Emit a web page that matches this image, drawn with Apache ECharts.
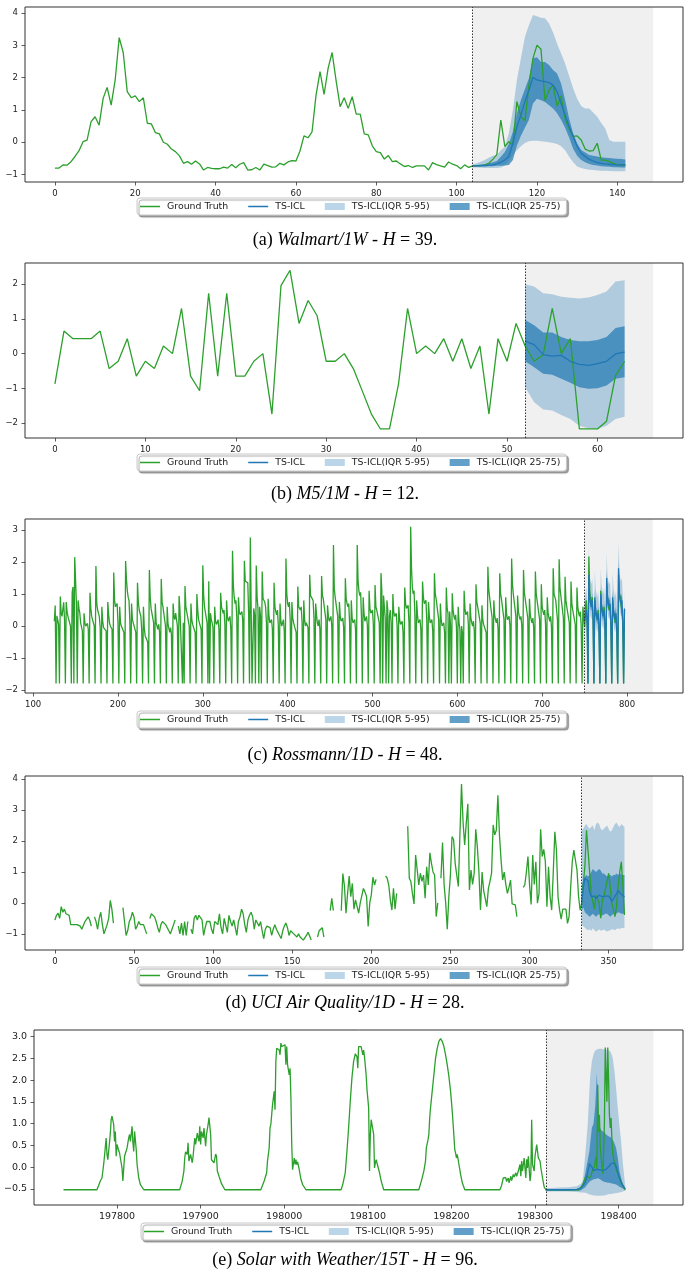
<!DOCTYPE html>
<html>
<head>
<meta charset="utf-8">
<script src="https://cdn.jsdelivr.net/npm/echarts@6/dist/echarts.min.js"></script>
<style>
html, body { margin: 0; padding: 0; background: #fff; }
#container { width: 690px; height: 1281px; }
</style>
</head>
<body>
<div id="container"></div>
<script>
// ---- (a) Walmart/1W ----
var walmartGt = [
  -0.80,-0.80,-0.70,-0.71,-0.60,-0.44,-0.26,0.02,0.07,0.64,
  0.79,0.53,1.36,1.70,1.15,1.93,3.24,2.78,1.57,1.38,
  1.44,1.26,1.38,0.59,0.57,0.30,0.26,0.00,-0.06,-0.21,
  -0.29,-0.42,-0.65,-0.60,-0.68,-0.58,-0.67,-0.86,-0.78,-0.81,
  -0.82,-0.82,-0.77,-0.80,-0.69,-0.79,-0.68,-0.63,-0.86,-0.85,
  -0.78,-0.86,-0.68,-0.72,-0.77,-0.76,-0.65,-0.70,-0.61,-0.57,
  -0.58,-0.27,0.20,0.14,0.32,1.46,2.19,1.48,2.29,2.78,
  1.90,1.10,1.38,1.05,1.41,0.87,0.87,0.26,0.23,-0.11,
  -0.29,-0.32,-0.52,-0.41,-0.60,-0.58,-0.67,-0.75,-0.72,-0.78,
  -0.73,-0.73,-0.73,-0.86,-0.63,-0.69,-0.73,-0.77,-0.61,-0.68,
  -0.72,-0.82,-0.70,-0.78,-0.73,
  -0.72,-0.72,-0.71,-0.65,-0.53,-0.38,0.69,-0.13,0.02,-0.08,
  1.26,0.79,0.67,1.77,2.60,3.01,2.88,1.29,1.62,1.77,
  1.12,1.43,0.74,0.43,0.18,0.20,0.07,-0.21,-0.27,-0.26,
  -0.03,-0.55,-0.55,-0.60,-0.65,-0.70,-0.71,-0.71
];
var walmartStart = 104;
var walmartMed = [-0.73,-0.73,-0.72,-0.72,-0.71,-0.70,-0.67,-0.62,-0.55,-0.44,-0.03,0.48,0.85,1.26,1.62,2.01,1.93,1.90,1.88,1.85,1.77,1.57,1.21,0.85,0.48,0.18,-0.13,-0.34,-0.44,-0.53,-0.58,-0.63,-0.65,-0.67,-0.68,-0.69,-0.70,-0.70,-0.70];
var walmartQ25 = [-0.75,-0.75,-0.75,-0.75,-0.74,-0.74,-0.73,-0.73,-0.72,-0.70,-0.55,-0.10,0.20,0.45,0.70,1.20,1.35,1.30,1.25,1.15,1.05,0.90,0.70,0.45,0.15,-0.20,-0.42,-0.55,-0.62,-0.67,-0.70,-0.72,-0.74,-0.75,-0.76,-0.77,-0.77,-0.78,-0.78];
var walmartQ75 = [-0.70,-0.70,-0.69,-0.67,-0.65,-0.62,-0.58,-0.45,-0.30,-0.05,0.33,0.90,1.31,1.65,1.98,2.60,2.63,2.49,2.49,2.39,2.24,2.13,1.82,1.31,0.74,0.28,-0.03,-0.24,-0.32,-0.39,-0.42,-0.44,-0.46,-0.48,-0.49,-0.50,-0.51,-0.52,-0.53];
var walmartQ5 = [-0.78,-0.78,-0.79,-0.80,-0.80,-0.80,-0.80,-0.78,-0.72,-0.58,-0.40,-0.25,-0.12,-0.02,0.03,0.05,0.05,0.03,0.02,0.00,-0.02,-0.05,-0.12,-0.25,-0.45,-0.62,-0.75,-0.80,-0.83,-0.85,-0.86,-0.87,-0.88,-0.88,-0.89,-0.90,-0.90,-0.90,-0.90];
var walmartQ95 = [-0.68,-0.65,-0.60,-0.55,-0.48,-0.42,-0.39,-0.25,-0.13,0.28,1.00,1.93,2.60,3.27,3.63,3.94,3.90,3.86,3.84,3.68,3.40,3.06,2.75,2.44,2.05,1.67,1.35,1.12,1.05,1.05,0.92,0.79,0.60,0.43,0.07,0.02,0.02,0.02,0.02];
var walmartXTicks = [0, 20, 40, 60, 80, 100, 120, 140];
var walmartYTicks = [-1, 0, 1, 2, 3, 4];

// ---- (b) M5/1M ----
var m5Gt = [
  -0.87,0.65,0.43,0.43,0.43,0.65,-0.43,-0.22,0.43,-0.65,
  -0.22,-0.43,0.22,0.00,1.30,-0.65,-1.07,1.74,-0.65,1.74,
  -0.65,-0.65,-0.22,0.00,-1.74,1.96,2.40,0.87,1.53,1.09,
  -0.22,-0.22,0.00,-0.43,-1.08,-1.74,-2.17,-2.17,-0.87,1.30,
  0.00,0.22,0.00,0.43,-0.22,0.43,-0.43,0.22,-1.74,0.43,
  -0.22,0.87,0.22,-0.22,-0.03,1.30,0.00,0.43,-2.17,-2.17,
  -2.17,-1.95,-0.63,-0.22
];
var m5Start = 52;
var m5Med = [0.36,0.26,-0.03,-0.07,-0.05,-0.22,-0.31,-0.34,-0.29,-0.22,-0.01,0.04];
var m5Q25 = [-0.22,-0.39,-0.58,-0.61,-0.72,-0.84,-0.97,-1.01,-1.00,-0.92,-0.72,-0.68];
var m5Q75 = [0.97,0.82,0.61,0.61,0.48,0.39,0.36,0.36,0.39,0.48,0.74,0.79];
var m5Q5 = [-0.97,-1.40,-1.61,-1.64,-1.77,-1.88,-2.08,-2.15,-2.17,-2.08,-1.88,-1.82];
var m5Q95 = [2.00,1.93,1.74,1.71,1.64,1.61,1.59,1.62,1.69,1.79,2.08,2.11];
var m5XTicks = [0, 10, 20, 30, 40, 50, 60];
var m5YTicks = [-2, -1, 0, 1, 2];

// ---- (c) Rossmann/1D ---- (rows: Mon..Sun)
var rossFirstDay = 125;
var rossHist = [
  0.15,0.64,-1.79,0.32,0.28,0.05,-1.79,
  0.92,0.40,0.30,0.35,0.74,0.20,-1.79,
  0.75,0.45,0.30,0.20,0.15,0.00,-1.79,
  1.05,1.22,-1.79,2.15,1.44,0.70,-1.79,
  0.80,0.55,0.40,0.10,0.05,-0.15,-1.79,
  0.40,0.10,0.00,0.05,0.08,-0.10,-1.79,
  1.04,0.55,0.30,0.35,0.28,0.00,-1.79,
  1.87,0.70,0.50,0.55,0.30,-0.05,-1.79,
  0.60,0.15,-0.05,-0.10,0.00,-0.15,-1.79,
  0.75,0.35,0.10,0.00,0.05,-0.10,-1.79,
  1.67,0.80,0.60,0.55,0.70,0.10,-1.79,
  0.60,0.10,0.00,-0.05,0.00,-0.20,-1.79,
  2.03,1.45,1.10,0.90,0.80,0.15,-1.79,
  0.70,0.20,0.10,0.15,0.05,-0.20,-1.79,
  1.35,0.75,0.50,0.40,0.30,-0.15,-1.79,
  0.60,-0.05,-0.30,-0.35,-0.30,-0.50,-1.79,
  1.75,0.90,0.55,0.50,0.50,0.10,-1.79,
  0.70,0.10,0.00,-0.10,0.05,-0.20,-1.79,
  1.47,0.75,0.60,0.55,0.55,0.00,-1.79,
  0.60,0.05,0.00,-0.20,-0.05,-0.25,-1.79,
  0.70,0.30,0.20,0.40,0.45,0.00,-1.79,
  0.94,0.55,0.60,0.50,-1.79,0.10,-1.79,
  1.25,0.60,0.45,0.50,0.50,0.00,-1.79,
  0.70,0.20,0.05,0.00,0.10,-0.20,-1.79,
  1.00,0.50,0.20,0.10,0.10,-0.10,-1.79,
  1.90,0.95,0.60,0.55,0.55,0.10,-1.79,
  1.40,-1.79,0.40,0.20,0.10,-0.05,-1.79,
  0.60,0.15,0.05,0.10,0.20,-0.10,-1.79,
  1.04,0.60,0.50,0.40,0.50,0.05,-1.79,
  0.80,0.30,0.15,0.10,0.30,-0.10,-1.79,
  2.35,1.25,0.90,0.70,0.80,0.30,-1.79,
  0.90,0.45,0.35,0.40,0.45,0.20,-1.79,
  2.04,1.40,1.35,1.40,1.35,0.40,-1.79,
  2.76,0.50,-1.79,-1.79,0.55,0.35,-1.79,
  1.89,0.90,0.55,-1.79,0.60,0.30,-1.79,
  1.70,0.85,0.80,0.75,0.60,0.10,-1.79,
  0.85,0.30,0.10,0.05,0.20,-0.10,-1.79,
  1.35,0.60,0.45,0.35,0.50,0.00,-1.79,
  0.70,0.15,0.00,0.10,0.20,-0.15,-1.79,
  2.11,1.00,0.70,0.60,0.75,0.20,-1.79,
  0.75,0.25,0.10,0.05,0.10,-0.20,-1.79,
  1.23,0.60,0.55,0.50,0.60,0.10,-1.79,
  0.80,0.20,0.00,0.10,0.15,-0.05,-1.79,
  1.60,0.95,0.90,0.90,0.80,0.25,-1.79,
  0.70,0.35,0.10,0.00,0.20,-0.10,-1.79,
  1.56,0.95,0.85,0.80,0.90,0.20,-1.79,
  0.65,0.30,0.15,0.10,0.30,0.00,-1.79,
  2.53,1.15,0.90,0.85,0.95,0.30,-1.79,
  0.75,0.30,0.15,0.10,0.25,-0.05,-1.79,
  1.49,0.85,0.70,0.60,0.70,0.10,-1.79,
  0.80,0.25,0.10,0.05,0.20,-0.10,-1.79,
  2.53,1.40,1.10,0.95,1.05,0.30,-1.79,
  0.90,0.40,0.15,0.10,0.30,0.00,-1.79,
  1.10,0.55,0.40,0.35,0.50,0.05,-1.79,
  1.28,0.60,0.50,0.45,0.55,0.10,-1.79,
  1.65,1.10,-1.79,0.95,0.90,0.25,-1.79,
  0.80,0.50,-1.79,0.30,0.50,0.10,-1.79,
  1.00,0.45,0.30,0.25,0.40,0.00,-1.79,
  0.60,0.20,0.05,0.00,0.15,-0.20,-1.79,
  1.20,0.70,0.55,0.60,0.65,0.10,-1.79,
  3.10,1.80,1.20,1.00,1.10,0.30,-1.79,
  0.80,0.35,0.10,0.05,0.20,-0.10,-1.79,
  1.39,0.90,0.70,0.75,0.80,0.15,-1.79,
  0.75,0.30,0.10,0.05,0.20,-0.15,-1.79,
  1.65,1.00,0.85,0.80,0.90,0.20,-1.79,
  0.70,0.20,0.00,-0.05,0.10,-0.20,-1.79,
  1.20,0.55,0.40,-1.79,0.45,0.00,-1.79,
  1.02,0.50,0.30,0.20,0.35,-0.05,-1.79,
  0.60,0.10,-0.10,-1.79,0.00,-0.20,-1.79,
  1.10,0.55,0.35,0.30,0.45,0.05,-1.79,
  0.70,0.25,0.10,0.00,0.15,-0.15,-1.79,
  1.30,0.75,0.60,0.55,0.60,0.10,-1.79,
  0.65,0.20,0.05,0.00,0.10,-0.20,-1.79,
  1.85,1.15,0.90,0.85,0.95,0.25,-1.79,
  0.80,0.35,0.20,0.10,0.25,-0.10,-1.79,
  1.65,1.00,0.85,0.80,0.85,0.20,-1.79,
  0.90,0.40,0.20,0.15,0.30,0.00,-1.79,
  2.11,1.30,1.00,0.95,1.00,0.30,-1.79,
  0.95,0.45,0.30,0.20,0.30,0.00,-1.79,
  1.75,1.05,0.85,0.80,0.90,0.25,-1.79,
  0.85,0.35,0.20,0.10,0.25,-0.05,-1.79,
  1.70,1.00,0.80,0.75,0.85,0.20,-1.79,
  1.30,0.60,0.45,0.35,0.50,0.05,-1.79,
  0.90,0.40,0.25,0.15,0.30,-0.05,-1.79,
  1.80,1.00,0.90,0.80,0.85,0.20,-1.79,
  2.08,1.20,0.95,0.90,1.00,0.25,-1.79,
  1.54,0.80,0.60,0.55,0.60,0.10,-1.79,
  1.39,0.70,0.50,0.45,0.55,0.05,-1.79,
  1.20,0.60,0.40,0.30,0.45,0.00,-1.79,
  0.60,0.30
];
var rossStart = 750;
var rossFut = [
  -0.02,0.60,0.80,0.30,-1.79,
  2.17,1.10,0.80,0.70,0.90,0.30,-1.79,
  0.80,0.40,0.30,0.20,0.50,0.00,-1.79,
  1.10,0.60,0.50,0.40,0.60,0.10,-1.79,
  1.30,0.80,0.60,0.50,0.60,0.00,-1.79,
  0.80,0.40,0.30,0.10,0.30,-0.20,-1.79,
  1.60,1.00,0.90,0.70,0.70,0.10,-1.79,
  0.50
];
var rossMed = [
  0.20,0.30,0.50,0.10,-1.79,
  1.60,0.90,0.70,0.60,0.80,0.20,-1.79,
  0.90,0.50,0.30,0.20,0.40,-0.10,-1.79,
  1.00,0.60,0.40,0.30,0.50,0.00,-1.79,
  1.50,0.90,0.70,0.60,0.70,0.10,-1.79,
  0.90,0.50,0.30,0.20,0.40,-0.10,-1.79,
  1.80,1.00,0.80,0.70,0.80,0.20,-1.79,
  0.55
];
var rossQ25 = [
  0.05,0.15,0.35,-0.05,-1.79,
  1.40,0.75,0.55,0.45,0.65,0.05,-1.79,
  0.75,0.35,0.15,0.05,0.25,-0.25,-1.79,
  0.85,0.45,0.25,0.15,0.35,-0.15,-1.79,
  1.30,0.75,0.55,0.45,0.55,-0.05,-1.79,
  0.75,0.35,0.15,0.05,0.25,-0.25,-1.79,
  1.55,0.85,0.65,0.55,0.65,0.05,-1.79,
  0.40
];
var rossQ75 = [
  0.35,0.50,0.70,0.30,-1.75,
  1.85,1.10,0.90,0.80,1.00,0.40,-1.75,
  1.10,0.70,0.50,0.40,0.60,0.10,-1.75,
  1.20,0.80,0.60,0.50,0.70,0.20,-1.75,
  1.75,1.10,0.90,0.80,0.90,0.30,-1.75,
  1.10,0.70,0.50,0.40,0.60,0.10,-1.75,
  2.10,1.20,1.00,0.90,1.00,0.40,-1.75,
  0.75
];
var rossQ5 = [
  -0.30,-0.10,0.10,-0.30,-1.80,
  1.00,0.50,0.30,0.20,0.40,-0.20,-1.80,
  0.50,0.10,-0.10,-0.20,0.00,-0.50,-1.80,
  0.60,0.20,0.00,-0.10,0.10,-0.40,-1.80,
  1.00,0.50,0.30,0.20,0.30,-0.30,-1.80,
  0.50,0.10,-0.10,-0.20,0.00,-0.50,-1.80,
  1.20,0.60,0.40,0.30,0.40,-0.20,-1.80,
  0.10
];
var rossQ95 = [
  0.80,1.00,1.20,0.80,-1.50,
  2.50,1.60,1.40,1.30,1.50,0.90,-1.50,
  1.70,1.20,1.00,0.90,1.10,0.60,-1.50,
  1.80,1.30,1.10,1.00,1.20,0.70,-1.50,
  2.30,1.60,1.40,1.30,1.40,0.80,-1.50,
  1.70,1.20,1.00,0.90,1.10,0.60,-1.50,
  2.64,1.80,1.50,1.40,1.50,0.90,-1.50,
  1.20
];
var rossXTicks = [100, 200, 300, 400, 500, 600, 700, 800];
var rossYTicks = [-2, -1, 0, 1, 2, 3];

// ---- (d) UCI Air Quality/1D ----
var uciGt = [
  -0.55,-0.40,-0.33,-0.50,-0.12,-0.30,-0.20,-0.35,-0.30,-0.40,
  -0.70,-0.68,-0.70,-0.65,-0.70,-0.72,-0.75,-0.85,-0.90,-0.60,
  -0.65,-0.45,-0.55,-0.75,null,-0.45,-0.60,-0.85,-0.50,-0.30,
  -0.70,-1.00,-1.05,-0.70,-0.50,0.08,-0.20,-0.65,null,null,
  null,null,null,-0.15,-0.60,-1.05,-0.90,-0.60,-0.50,-0.30,
  -0.45,-0.85,-0.75,-0.60,-0.70,-0.65,-0.70,-0.75,-1.00,null,
  -0.50,-0.35,-0.40,-0.45,-0.60,-0.80,-0.95,-0.70,-0.60,-0.55,
  -0.70,-0.75,-0.90,-1.00,-0.85,-0.70,-0.55,null,-0.75,-1.00,
  -0.65,-1.05,-0.60,-1.05,-0.60,null,-0.85,-1.00,-0.50,-0.40,
  -0.55,-0.40,-0.45,-0.55,-1.05,-0.80,-0.60,-0.65,-0.60,-0.85,
  -1.00,-0.60,-0.55,-0.70,-0.35,-0.80,-1.00,-0.50,-0.55,-0.95,
  -0.40,-0.60,-0.75,-0.55,-0.80,-1.05,-0.60,-0.45,-0.20,-0.35,
  -0.70,-0.95,-0.55,-0.40,-0.30,-0.45,-0.85,-0.55,-0.50,-0.75,
  -0.60,-0.90,-1.15,-0.85,-0.75,-0.70,-0.80,-1.05,-0.85,-0.70,
  -0.85,-0.95,-1.05,-1.15,-0.90,-0.75,-0.65,-0.80,-1.05,-0.90,
  -0.95,-1.00,-1.05,-1.10,-1.00,-1.10,-1.15,-1.20,-1.20,-1.05,
  -0.95,-1.00,-1.20,null,null,null,-1.10,-0.90,-0.95,-0.80,
  -1.10,null,null,null,-0.25,0.15,-0.25,null,null,null,
  null,-0.25,0.95,0.55,-0.33,0.30,0.87,0.20,0.63,-0.20,
  0.10,0.08,-0.33,0.00,-0.05,0.47,0.35,0.20,-0.76,0.00,
  0.26,0.83,0.58,0.76,null,null,null,null,null,0.87,
  0.80,0.58,0.10,-0.23,0.47,-0.20,0.31,null,null,null,
  null,null,null,2.48,0.80,0.69,0.30,-0.03,1.55,1.50,
  0.58,0.96,0.70,0.90,0.15,1.17,0.58,1.62,1.28,1.00,
  0.90,-0.44,0.00,null,0.80,1.95,0.60,0.00,-0.85,0.20,
  0.90,2.14,2.05,1.28,0.90,0.53,2.20,3.84,2.60,1.87,
  2.57,3.20,0.42,1.06,0.60,0.95,2.38,1.82,1.00,-0.23,
  1.00,0.40,0.15,-0.12,0.47,0.70,0.96,2.52,2.20,2.35,
  3.48,2.19,1.39,0.74,1.00,0.60,0.31,0.50,0.74,-0.03,
  -0.05,-0.06,-0.44,null,null,null,0.50,0.58,0.99,1.50,
  0.60,-0.05,1.55,0.60,1.33,-0.01,0.30,2.38,1.50,1.73,
  1.33,-0.12,1.17,0.20,-0.23,1.00,2.30,1.71,0.20,-0.23,
  -0.52,-0.20,-0.25,-0.20,-0.66,-0.44,0.50,1.33,1.71,1.71,
  1.06,0.20,-0.23,-0.01,0.60,1.20,2.35,2.30,1.00,0.30,
  0.04,-0.20,0.25,0.30,0.00,-0.49,0.10,0.20,0.45,0.70,
  0.96,0.50,0.00,-0.23,-0.44,-0.10,0.53,0.99,1.33,0.53,
  -0.39
];
var uciStart = 333;
var uciMed = [0.00,0.50,0.80,0.75,0.72,0.35,0.20,0.25,0.22,0.15,0.18,0.25,0.22,0.20,0.15,0.22,0.25,0.22,0.15,0.05,0.12,0.22,0.30,0.40,0.35,0.28,0.22,0.20];
var uciQ25 = [-0.25,-0.15,-0.30,-0.35,-0.40,-0.45,-0.40,-0.35,-0.40,-0.45,-0.40,-0.35,-0.45,-0.40,-0.38,-0.35,-0.35,-0.40,-0.45,-0.40,-0.35,-0.30,-0.35,-0.30,-0.32,-0.35,-0.35,-0.33];
var uciQ75 = [0.55,0.75,0.85,0.90,0.85,0.90,1.00,1.10,1.05,1.00,1.05,1.10,1.05,0.95,0.95,0.90,0.85,0.90,0.90,0.85,0.90,0.90,0.95,0.90,0.95,0.92,0.90,0.90];
var uciQ5 = [-0.72,-0.75,-0.80,-0.85,-0.88,-0.85,-0.90,-0.82,-0.88,-0.92,-0.90,-0.85,-0.90,-0.88,-0.86,-0.90,-0.92,-0.90,-0.88,-0.85,-0.86,-0.88,-0.84,-0.82,-0.85,-0.80,-0.82,-0.80];
var uciQ95 = [2.35,2.40,2.50,2.55,2.45,2.40,2.45,2.50,2.35,2.55,2.60,2.55,2.40,2.35,2.40,2.45,2.50,2.40,2.30,2.35,2.45,2.55,2.60,2.50,2.45,2.55,2.50,2.45];
var uciXTicks = [0, 50, 100, 150, 200, 250, 300, 350];
var uciYTicks = [-1, 0, 1, 2, 3, 4];

// ---- (e) Solar with Weather/15T ----
var solarX = [
  197736,197776,197778,197780,197782,197784,197785,197787,197788,197789,197791,197792,197793,197794,197796,197797,197798,197799,197800,197802,197803,197804,197806,197807,197809,197810,197812,197814,197815,197816,197818,197819,197820,197821,197823,197824,197826,197828,197832,
  197875,197878,197880,197881,197882,197884,197885,197886,197888,197890,197891,197893,197894,197896,197898,197899,197900,197901,197903,197904,197906,197907,197909,197910,197912,197913,197915,197916,197918,197919,197920,197922,197925,197929,
  197972,197976,197979,197980,197982,197983,197984,197985,197986,197988,197989,197990,197991,197992,197994,197995,197996,197997,197998,197999,198001,198002,198003,198004,198006,198007,198008,198009,198010,198012,198013,198014,198015,198016,198018,198020,198022,198026,
  198068,198070,198073,198075,198077,198079,198081,198083,198085,198087,198088,198089,198091,198092,198094,198095,198096,198097,198098,198099,198100,198101,198102,198103,198104,198106,198107,198108,198109,198110,198112,198114,198116,198119,
  198161,198164,198167,198169,198170,198172,198173,198174,198175,198177,198179,198181,198183,198185,198187,198189,198191,198193,198195,198197,198199,198201,198203,198204,198205,198206,198207,198209,198211,198213,198216,
  198258,198260,198262,198263,198265,198266,198268,198269,198271,198272,198274,198275,198277,198278,198280,198282,198283,198284,198285,198287,198289,198290,198291,198292,198294,198295,198296,198297,198299,198300,198302,198303,198304,198306,198307,198309,198311,198313,
  198353,198355,198357,198359,198361,198363,198365,198367,198369,198371,198373,198374,198375,198376,198377,198378,198380,198381,198382,198383,198384,198385,198386,198387,198388,198389,198390,198391,198392,198393,198395,198397,198399,198401,198403,198405,198407,198408
];
var solarY = [
  -0.52,-0.52,-0.42,-0.32,-0.25,0.06,0.25,0.67,0.29,0.17,0.56,0.78,1.09,1.17,0.98,0.59,0.82,0.25,0.52,0.38,0.33,0.21,-0.02,-0.32,0.25,0.21,0.44,0.67,0.75,0.59,0.94,0.56,0.36,0.82,0.40,0.06,-0.25,-0.40,-0.52,
  -0.52,-0.32,-0.09,0.21,0.35,0.29,0.56,0.14,0.29,0.10,0.25,0.67,0.52,0.78,0.59,0.94,0.52,0.82,0.67,0.90,0.48,0.75,0.98,1.14,0.75,0.17,0.21,0.10,0.30,0.25,-0.09,-0.21,-0.38,-0.52,
  -0.52,-0.32,-0.13,0.14,0.44,0.90,0.98,1.20,1.43,1.74,1.32,2.43,2.73,2.73,2.69,2.58,2.85,2.77,2.81,2.73,2.81,2.35,2.77,2.35,2.12,2.27,1.59,0.52,-0.06,0.21,0.06,0.17,0.06,0.12,-0.06,-0.28,-0.40,-0.52,
  -0.52,-0.40,-0.13,0.36,0.90,1.51,2.05,2.43,2.60,2.54,2.27,2.77,2.75,2.77,2.58,2.69,2.54,2.50,2.12,1.78,1.82,1.36,-0.09,0.75,1.09,1.05,0.75,-0.02,0.10,0.17,0.02,-0.13,-0.32,-0.52,
  -0.52,-0.32,-0.09,0.14,0.44,0.63,0.75,1.13,1.36,1.74,2.12,2.50,2.73,2.89,2.95,2.89,2.77,2.58,2.35,2.08,1.74,1.28,0.71,0.40,0.32,0.21,0.29,0.06,-0.17,-0.36,-0.52,
  -0.52,-0.42,-0.25,-0.29,-0.24,-0.33,-0.25,-0.36,-0.21,-0.31,-0.17,-0.23,-0.13,-0.21,-0.09,0.06,-0.21,0.14,-0.09,0.21,-0.25,0.18,-0.02,0.25,-0.32,-0.17,1.09,0.06,-0.09,0.25,0.52,0.36,0.21,0.14,-0.02,-0.25,-0.46,-0.52,
  -0.52,-0.46,-0.40,-0.30,-0.20,-0.21,-0.25,-0.20,-0.05,0.00,0.25,-0.05,1.89,0.80,1.20,0.50,0.00,-0.15,0.30,1.00,2.75,2.77,1.50,2.75,2.73,1.20,0.90,1.13,0.60,0.30,0.10,-0.05,-0.15,-0.25,-0.35,-0.42,-0.50,-0.52
];
var solarStart = 198313;
var solarFx = [198313,198320,198330,198340,198350,198355,198357,198359,198361,198363,198365,198366,198368,198370,198372,198374,198375,198376,198377,198378,198379,198381,198383,198385,198387,198389,198391,198393,198395,198397,198399,198401,198403,198405,198408];
var solarMed = [-0.52,-0.52,-0.52,-0.52,-0.51,-0.48,-0.44,-0.38,-0.30,-0.12,0.08,0.10,0.00,-0.08,-0.08,-0.05,-0.05,-0.05,-0.06,-0.07,-0.08,-0.08,-0.06,-0.05,-0.02,0.03,0.08,0.11,0.10,0.02,-0.12,-0.25,-0.34,-0.42,-0.50];
var solarQ25 = [-0.54,-0.54,-0.54,-0.54,-0.54,-0.53,-0.50,-0.48,-0.44,-0.38,-0.34,-0.32,-0.30,-0.28,-0.27,-0.26,-0.26,-0.26,-0.27,-0.28,-0.30,-0.32,-0.34,-0.35,-0.36,-0.36,-0.37,-0.38,-0.39,-0.40,-0.42,-0.45,-0.47,-0.49,-0.52];
var solarQ75 = [-0.50,-0.50,-0.50,-0.50,-0.50,-0.45,-0.38,-0.25,-0.05,0.15,0.36,0.55,0.90,1.00,1.40,2.17,1.60,1.00,0.95,0.90,0.85,0.82,0.80,0.75,0.72,0.70,0.68,0.63,0.55,0.44,0.21,-0.09,-0.25,-0.38,-0.50];
var solarQ5 = [-0.56,-0.56,-0.56,-0.56,-0.57,-0.58,-0.58,-0.59,-0.59,-0.61,-0.63,-0.63,-0.64,-0.65,-0.65,-0.66,-0.66,-0.66,-0.66,-0.66,-0.66,-0.65,-0.65,-0.64,-0.63,-0.62,-0.62,-0.61,-0.60,-0.60,-0.59,-0.58,-0.57,-0.56,-0.54];
var solarQ95 = [-0.48,-0.48,-0.47,-0.46,-0.44,-0.38,-0.32,0.06,0.50,0.98,1.74,2.10,2.43,2.60,2.68,2.70,2.71,2.72,2.72,2.72,2.72,2.71,2.70,2.70,2.69,2.68,2.62,2.50,2.20,1.80,1.36,0.95,0.59,0.10,-0.45];
var solarXTicks = [197800, 197900, 198000, 198100, 198200, 198300, 198400];
var solarYTicks = [-0.5, 0, 0.5, 1, 1.5, 2, 2.5, 3];

var captions = [
    '{n|(a) }{i|Walmart/1W}{n| - }{i|H}{n| = 39.}',
    '{n|(b) }{i|M5/1M}{n| - }{i|H}{n| = 12.}',
    '{n|(c) }{i|Rossmann/1D}{n| - }{i|H}{n| = 48.}',
    '{n|(d) }{i|UCI Air Quality/1D}{n| - }{i|H}{n| = 28.}',
    '{n|(e) }{i|Solar with Weather/15T}{n| - }{i|H}{n| = 96.}'
];

var GREEN = '#2ca02c';
var BLUE = '#1f77b4';
var LIGHT = 'rgba(31,119,180,0.3)';
var DARK = 'rgba(31,119,180,0.7)';
var LINE_ICON = 'path://M0,0H20V1.5H0Z';

function seq(x0, ys) {
    return ys.map(function(v, i) { return [x0 + i, v]; });
}
function steps(x0, n) {
    var out = [];
    for (var i = 0; i < n; i++) out.push(x0 + i);
    return out;
}
function zip(xs, ys) {
    return xs.map(function(x, i) { return [x, ys[i]]; });
}
function minus(v) {
    return v < 0 ? '\u2212' + Math.abs(v) : String(v);
}

var panels = [{
    grid: { left: 25, top: 7, width: 658, height: 175 },
    xr: [-7.45, 156.35], yr: [-1.23, 4.19],
    xt: walmartXTicks, yt: walmartYTicks,
    shade: [walmartStart, 148.9],
    gt: seq(0, walmartGt),
    fx: steps(walmartStart, walmartMed.length),
    med: walmartMed, q5: walmartQ5, q25: walmartQ25, q75: walmartQ75, q95: walmartQ95,
    legend: [137, 198], capTop: 230, fs: 8.5
}, {
    grid: { left: 25, top: 263, width: 658, height: 175 },
    xr: [-3.31, 69.46], yr: [-2.43, 2.61],
    xt: m5XTicks, yt: m5YTicks,
    shade: [m5Start, 66.15],
    gt: seq(0, m5Gt),
    fx: steps(m5Start, m5Med.length),
    med: m5Med, q5: m5Q5, q25: m5Q25, q75: m5Q75, q95: m5Q95,
    legend: [137, 454], capTop: 484, fs: 8.5
}, {
    grid: { left: 25, top: 519, width: 658, height: 174 },
    xr: [90.4, 866], yr: [-2.09, 3.34],
    xt: rossXTicks, yt: rossYTicks,
    shade: [rossStart, 830.3],
    gt: seq(rossFirstDay, rossHist.concat(rossFut)),
    fx: steps(rossStart, rossMed.length),
    med: rossMed, q5: rossQ5, q25: rossQ25, q75: rossQ75, q95: rossQ95,
    legend: [137, 711], capTop: 745, fs: 8.5
}, {
    grid: { left: 25, top: 776, width: 658, height: 174 },
    xr: [-18.9, 397], yr: [-1.52, 4.1],
    xt: uciXTicks, yt: uciYTicks,
    shade: [uciStart, 378],
    gt: seq(0, uciGt),
    fx: steps(uciStart, uciMed.length),
    med: uciMed, q5: uciQ5, q25: uciQ25, q75: uciQ75, q95: uciQ95,
    legend: [137, 967], capTop: 993, fs: 8.5
}, {
    grid: { left: 34, top: 1030, width: 649, height: 175 },
    xr: [197700.7, 198477], yr: [-0.87, 3.15],
    xt: solarXTicks, yt: solarYTicks,
    shade: [solarStart, 198441.6],
    gt: zip(solarX, solarY),
    fx: solarFx,
    med: solarMed, q5: solarQ5, q25: solarQ25, q75: solarQ75, q95: solarQ95,
    legend: [141, 1223], capTop: 1250, fs: 9.5, yfix: 1
}];

function bandSeries(name, idx, xs, lo, hi, color) {
    return {
        type: 'custom',
        name: name,
        xAxisIndex: idx,
        yAxisIndex: idx,
        z: 2,
        silent: true,
        itemStyle: { color: color },
        encode: { x: 0, y: [1, 2] },
        data: xs.map(function(x, i) { return [x, lo[i], hi[i]]; }),
        renderItem: function(params, api) {
            if (params.dataIndexInside !== 0) return;
            var n = params.dataInsideLength;
            var top = [], bot = [];
            for (var i = 0; i < n; i++) {
                top.push(api.coord([api.value(0, i), api.value(2, i)]));
                bot.unshift(api.coord([api.value(0, i), api.value(1, i)]));
            }
            return {
                type: 'polygon',
                shape: { points: top.concat(bot) },
                style: { fill: color }
            };
        }
    };
}

var legendData = [
    { name: 'Ground Truth', icon: LINE_ICON, itemStyle: { color: GREEN, borderWidth: 0 } },
    { name: 'TS-ICL', icon: LINE_ICON, itemStyle: { color: BLUE, borderWidth: 0 } },
    { name: 'TS-ICL(IQR 5-95)', icon: 'rect', itemStyle: { color: LIGHT, borderWidth: 0 } },
    { name: 'TS-ICL(IQR 25-75)', icon: 'rect', itemStyle: { color: DARK, borderWidth: 0 } }
];

var grids = [], xAxes = [], yAxes = [], series = [], legends = [], titles = [];
var rich = {
    n: { fontFamily: 'Liberation Serif', fontSize: 18, fontWeight: 'normal', color: '#000', lineHeight: 20 },
    i: { fontFamily: 'Liberation Serif', fontSize: 18, fontWeight: 'normal', fontStyle: 'italic', color: '#000', lineHeight: 20 }
};

panels.forEach(function(p, k) {
    grids.push({
        left: p.grid.left, top: p.grid.top, width: p.grid.width, height: p.grid.height,
        show: true, z: 10, borderColor: '#333', borderWidth: 1, backgroundColor: 'transparent'
    });
    var labelStyle = { fontFamily: 'DejaVu Sans', fontSize: p.fs, color: '#222', margin: 7 };
    xAxes.push({
        type: 'value', gridIndex: k, min: p.xr[0], max: p.xr[1],
        axisLine: { show: false, onZero: false },
        axisTick: { show: true, length: 3.5, customValues: p.xt, lineStyle: { color: '#333', width: 0.8 } },
        axisLabel: Object.assign({ customValues: p.xt, formatter: function(v) { return minus(v); } }, labelStyle),
        splitLine: { show: false }
    });
    yAxes.push({
        type: 'value', gridIndex: k, min: p.yr[0], max: p.yr[1],
        axisLine: { show: false, onZero: false },
        axisTick: { show: true, length: 3.5, customValues: p.yt, lineStyle: { color: '#333', width: 0.8 } },
        axisLabel: Object.assign({
            customValues: p.yt,
            formatter: function(v) { return p.yfix ? minus(v.toFixed(1)).replace('\u2212-', '\u2212') : minus(v); }
        }, labelStyle),
        splitLine: { show: false }
    });

    series.push(bandSeries('TS-ICL(IQR 5-95)', k, p.fx, p.q5, p.q95, LIGHT));
    series.push(bandSeries('TS-ICL(IQR 25-75)', k, p.fx, p.q25, p.q75, DARK));
    series.push({
        type: 'line', name: 'Ground Truth', xAxisIndex: k, yAxisIndex: k, z: 3,
        data: p.gt, symbol: 'none', connectNulls: false,
        lineStyle: { color: GREEN, width: 1.3 }, itemStyle: { color: GREEN },
        markArea: {
            silent: true,
            itemStyle: { color: '#f0f0f0' },
            data: [[{ xAxis: p.shade[0] }, { xAxis: p.shade[1] }]]
        },
        markLine: {
            silent: true, symbol: ['none', 'none'], label: { show: false },
            lineStyle: { color: '#333', width: 1, type: [1.5, 1.5] },
            data: [{ xAxis: p.shade[0] }]
        }
    });
    series.push({
        type: 'line', name: 'TS-ICL', xAxisIndex: k, yAxisIndex: k, z: 4,
        data: zip(p.fx, p.med), symbol: 'none',
        lineStyle: { color: BLUE, width: 1.3 }, itemStyle: { color: BLUE }
    });

    legends.push({
        left: p.legend[0], top: p.legend[1],
        orient: 'horizontal', selectedMode: false,
        itemWidth: 20, itemHeight: 7, itemGap: 20,
        padding: [4, 6, 4, 3],
        backgroundColor: '#fff', borderColor: '#c8c8c8', borderWidth: 1, borderRadius: 3,
        shadowColor: 'rgba(0,0,0,0.35)', shadowBlur: 1, shadowOffsetX: 2, shadowOffsetY: 2,
        textStyle: { fontFamily: 'DejaVu Sans', fontSize: 9.4, color: '#222', padding: [0, 0, 0, 2] },
        data: legendData
    });

    titles.push({
        text: captions[k], left: 'center', top: p.capTop, padding: 0,
        textStyle: { fontWeight: 'normal', rich: rich }
    });
});

var chart = echarts.init(document.getElementById('container'), null, { renderer: 'canvas' });
chart.setOption({
    animation: false,
    backgroundColor: '#fff',
    title: titles,
    legend: legends,
    grid: grids,
    xAxis: xAxes,
    yAxis: yAxes,
    series: series
});
</script>
</body>
</html>
